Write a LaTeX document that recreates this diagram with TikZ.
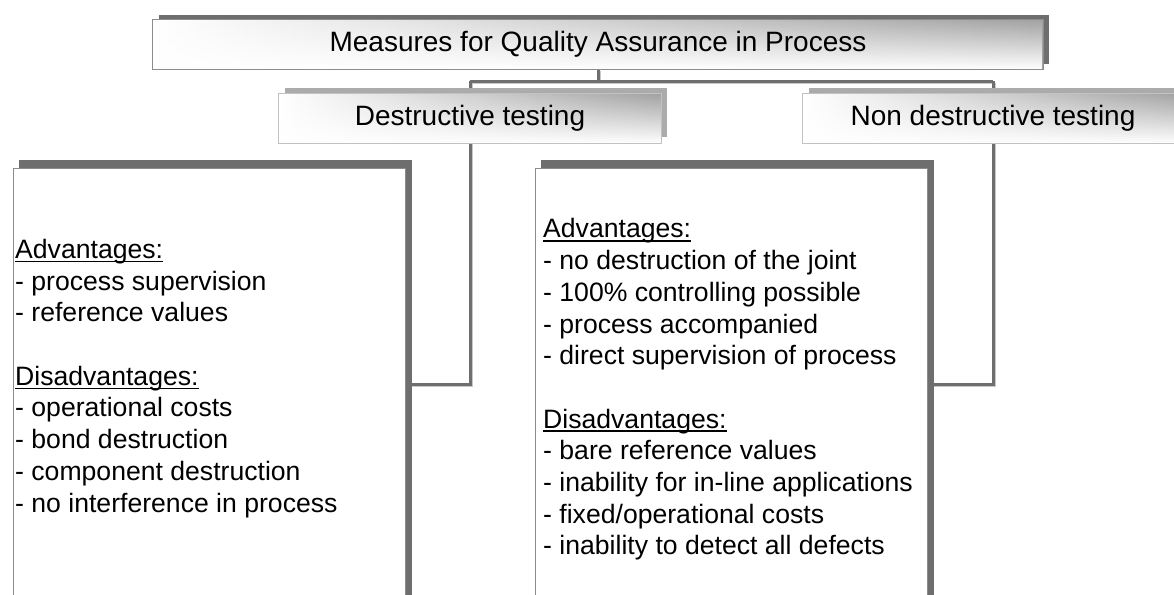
\documentclass[tikz,border=0pt]{standalone}
\usepackage{fontspec}
\setmainfont{Liberation Sans}
\usetikzlibrary{fadings}
\definecolor{shd}{HTML}{6E6E6E}
\definecolor{shl}{HTML}{ABABAB}
\definecolor{hdb}{HTML}{8C8C8C}
\definecolor{hdbl}{HTML}{C2C2C2}
\definecolor{gradR}{HTML}{A2A2A2}
\definecolor{lnsh}{HTML}{C8C8C8}
\tikzfading[name=fadeup, top color=transparent!100, bottom color=transparent!0]
\newsavebox\ulsave
\newcommand\ulbox[1]{\sbox\ulsave{#1}\rlap{\vrule width \wd\ulsave height -2.3pt depth 3.8pt}\usebox\ulsave}
\pgfdeclarelayer{connl}
\pgfdeclarelayer{shadl}
\pgfdeclarelayer{boxbg}
\pgfsetlayers{connl,shadl,boxbg,main}
\newcommand\headerbg[4]{%
  \begin{pgfonlayer}{shadl}
    \fill[#4] ([shift={(#3)}]#1.south west) rectangle ([shift={(#3)}]#1.north east);
  \end{pgfonlayer}
  \begin{pgfonlayer}{boxbg}
    \shade[left color=white, right color=gradR] (#1.south west) rectangle (#1.north east);
    \fill[white, path fading=fadeup] (#1.south west) rectangle (#1.north east);
    \draw[#2, line width=1pt] (#1.south west) rectangle (#1.north east);
  \end{pgfonlayer}}
\begin{document}
\begin{tikzpicture}[x=1pt, y=-1pt,
  hdr/.style={rectangle, inner sep=0pt, font=\fontsize{28}{32}\selectfont, text=black},
  cbox/.style={rectangle, inner sep=0pt, draw=hdb, line width=1pt, fill=white},
  txt/.style={inner sep=0pt, align=left, font=\fontsize{26.6}{31.7}\selectfont, text=black},
  conn/.style={draw=shd, line width=3pt},
  connsh/.style={draw=lnsh, line width=2pt}]
\useasboundingbox (0,0) rectangle (1174,594);
% header boxes
\node[hdr, minimum width=890pt, minimum height=49pt] (top) at (598,44.5) {Measures for Quality Assurance in Process};
\node[hdr, minimum width=382pt, minimum height=49pt] (dt) at (470,118.5) {Destructive testing};
\node[hdr, minimum width=380pt, minimum height=49pt] (ndt) at (993,118.5) {Non destructive testing};
\headerbg{top}{hdb}{6pt,5pt}{shd}
\headerbg{dt}{hdbl}{6pt,6pt}{shl}
\headerbg{ndt}{hdbl}{6pt,6pt}{shl}
% content boxes
\node[cbox, minimum width=392pt, minimum height=460pt, anchor=north west] (lbox) at (13,168) {};
\node[cbox, minimum width=392pt, minimum height=460pt, anchor=north west] (rbox) at (535,168) {};
\begin{pgfonlayer}{shadl}
  \fill[shd] ([shift={(6pt,8pt)}]lbox.south west) rectangle ([shift={(6pt,8pt)}]lbox.north east);
  \fill[shd] ([shift={(6pt,8pt)}]rbox.south west) rectangle ([shift={(6pt,8pt)}]rbox.north east);
\end{pgfonlayer}
% texts
\node[txt, anchor=north west] (ltxt) at (15,239) {\ulbox{Advantages:}\\- process supervision\\- reference values\\[31.7pt]\ulbox{Disadvantages:}\\- operational costs\\- bond destruction\\- component destruction\\- no interference in process};
\node[txt, anchor=north west] (rtxt) at (543,218.5) {\ulbox{Advantages:}\\- no destruction of the joint\\- 100\% controlling possible\\- process accompanied\\- direct supervision of process\\[31.7pt]\ulbox{Disadvantages:}\\- bare reference values\\- inability for in-line applications\\- fixed/operational costs\\- inability to detect all defects};
% connectors
\coordinate (jT) at (598,81);
\coordinate (jL) at (470,81);
\coordinate (jR) at (993,81);
\coordinate (lend) at (405,384);
\coordinate (rend) at (927,384);
\begin{pgfonlayer}{connl}
  \begin{scope}[transform canvas={shift={(1.5pt,-1.5pt)}}]
    \draw[connsh] (top.south) -- (jT);
    \draw[connsh] (jL) -- (jR);
    \draw[connsh] (jL) |- (lend);
    \draw[connsh] (jR) |- (rend);
  \end{scope}
  \draw[conn] (top.south) -- (jT);
  \draw[conn] (jL) -- (jR);
  \draw[conn] (jL) |- (lend);
  \draw[conn] (jR) |- (rend);
\end{pgfonlayer}
\end{tikzpicture}
\end{document}
